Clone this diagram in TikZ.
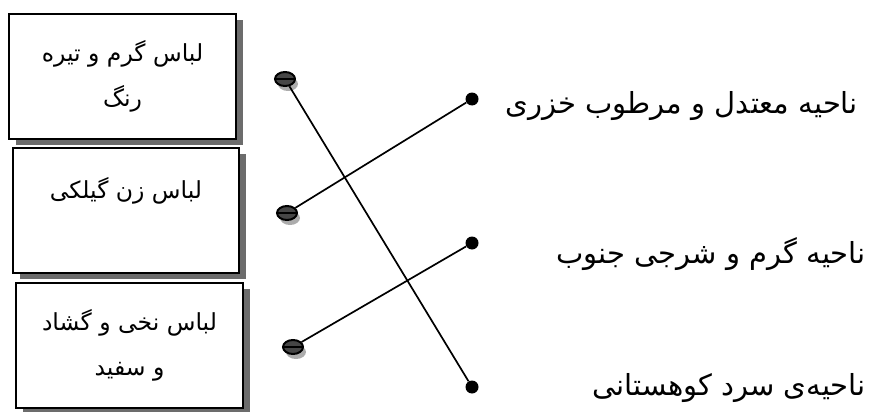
\documentclass[tikz,border=0pt]{standalone}
\usepackage{fontspec}
\usetikzlibrary{shapes.geometric,shadows}
\TeXXeTstate=1
\newfontfamily\arabicfont[Script=Arabic]{DejaVu Sans}
\tikzset{
  boxnode/.style={draw, line width=2pt, fill=white, anchor=north west,
    align=center, inner sep=0pt, font=\arabicfont\fontsize{23.5}{45}\selectfont,
    drop shadow={shadow xshift=7pt, shadow yshift=-6pt, fill=gray!85!black, opacity=1}},
  bead/.style={ellipse, draw, line width=2pt, fill=gray!55!black,
    minimum width=20pt, minimum height=14pt, inner sep=0pt,
    drop shadow={shadow xshift=3pt, shadow yshift=-5pt, fill=gray!65, opacity=1},
    path picture={\draw[black, line width=1.2pt] (path picture bounding box.west) -- (path picture bounding box.east);}},
  dotnode/.style={circle, fill=black, minimum size=13pt, inner sep=0pt},
  region/.style={anchor=east, font=\arabicfont\fontsize{29}{34}\selectfont, inner sep=0pt},
  link/.style={line width=1.7pt}
}
\begin{document}
\begin{tikzpicture}[x=1pt, y=-1pt]
\useasboundingbox (0,0) rectangle (873,412);
% boxes
\node[boxnode, minimum width=227pt, minimum height=125pt] (b1) at (8,13)
  {\beginR لباس گرم و تیره\endR\\\beginR رنگ\endR};
\node[boxnode, minimum width=226pt, minimum height=125pt] (b2) at (12,147)
  {\beginR لباس زن گیلکی\endR\\\mbox{}};
\node[boxnode, minimum width=227pt, minimum height=125pt] (b3) at (15,282)
  {\beginR لباس نخی و گشاد\endR\\\beginR و سفید\endR};
% beads
\node[bead] (l1) at (285,79) {};
\node[bead] (l2) at (287,213) {};
\node[bead] (l3) at (293,347) {};
% dots
\node[dotnode] (r1) at (472,99) {};
\node[dotnode] (r2) at (472,243) {};
\node[dotnode] (r3) at (472,387) {};
% region labels
\node[region] (t1) at (858,106) {\beginR ناحیه معتدل و مرطوب خزری\endR};
\node[region] (t2) at (866,254) {\beginR ناحیه گرم و شرجی جنوب\endR};
\node[region] (t3) at (866,388) {\beginR ناحیه‌ی سرد کوهستانی\endR};
% links
\draw[link] (l1) -- (r3);
\draw[link] (l2) -- (r1);
\draw[link] (l3) -- (r2);
\end{tikzpicture}
\end{document}
